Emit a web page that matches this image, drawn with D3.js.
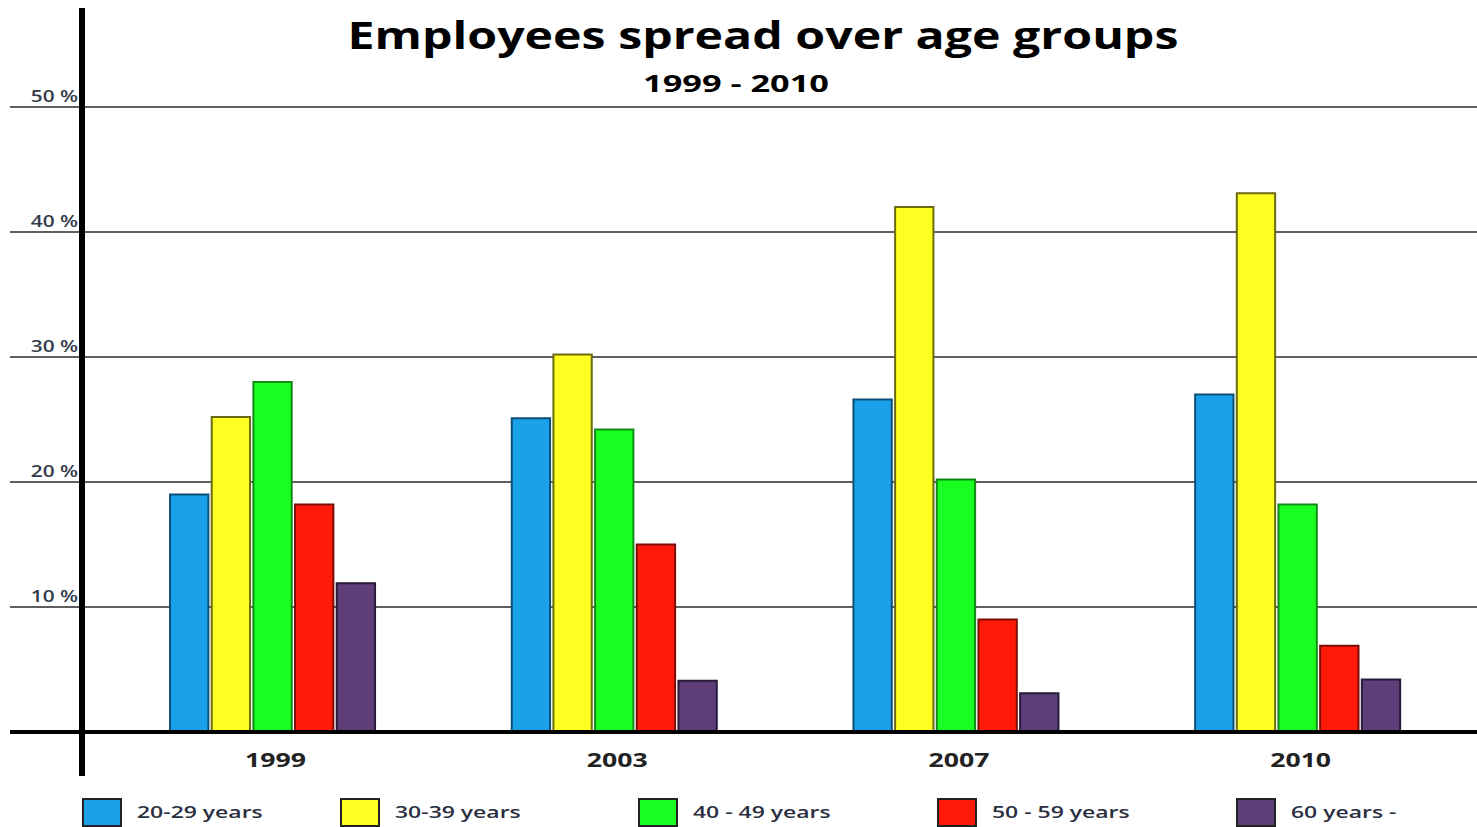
<!DOCTYPE html>
<html>
<head>
<meta charset="utf-8">
<script src="https://cdn.jsdelivr.net/npm/d3@7"></script>
<style>
  body { margin: 0; background: #fff; }
  text { font-family: "Open Sans", "Noto Sans", sans-serif; }
</style>
</head>
<body>
<svg width="1477" height="827"></svg>
<script>
var years = ["1999", "2003", "2007", "2010"];
var groups = ["20-29 years", "30-39 years", "40 - 49 years", "50 - 59 years", "60 years -"];
var colors = ["#1aa1ea", "#ffff22", "#1aff22", "#ff1a0a", "#5e3f79"];
var strokes = ["#0d4f75", "#6a6a10", "#128a18", "#7a0d05", "#2a1a3a"];
var values = [
  [19, 25.2, 28, 18.2, 11.9],
  [25.1, 30.2, 24.2, 15, 4.1],
  [26.6, 42, 20.2, 9, 3.1],
  [27, 43.1, 18.2, 6.9, 4.2]
];
var yTicks = [10, 20, 30, 40, 50];

// the original text is drawn wide, so stretch it sideways
function widen(sel, k) {
  sel.each(function() {
    var w = this.getComputedTextLength();
    d3.select(this)
      .attr("textLength", w * k)
      .attr("lengthAdjust", "spacingAndGlyphs");
  });
}

var svg = d3.select("svg");

var x = d3.scaleBand()
    .domain(years)
    .range([101.7, 1468.5])
    .paddingInner(0.4)
    .paddingOuter(0.2);

var xi = d3.scaleBand()
    .domain(d3.range(groups.length))
    .range([0, x.bandwidth()])
    .paddingInner(0.08);

var y = d3.scaleLinear()
    .domain([0, 50])
    .range([732, 107]);

// grid lines
svg.selectAll("line.grid")
    .data(yTicks)
    .enter()
  .append("line")
    .attr("class", "grid")
    .attr("x1", 10)
    .attr("x2", 1477)
    .attr("y1", function(d) { return y(d); })
    .attr("y2", function(d) { return y(d); })
    .style("stroke", "#2a2a2a")
    .style("stroke-width", 1.5);

svg.selectAll("text.ytick")
    .data(yTicks)
    .enter()
  .append("text")
    .attr("class", "ytick")
    .attr("x", 78)
    .attr("y", function(d) { return y(d) - 5; })
    .attr("text-anchor", "end")
    .style("font-size", "16px")
    .style("font-weight", "600")
    .style("fill", "#333a4a")
    .text(function(d) { return d + " %"; })
    .call(widen, 1.3);

// bars
var g = svg.selectAll("g.year")
    .data(values)
    .enter()
  .append("g")
    .attr("class", "year")
    .attr("transform", function(d, i) { return "translate(" + x(years[i]) + ",0)"; });

g.selectAll("rect")
    .data(function(d) { return d; })
    .enter()
  .append("rect")
    .attr("x", function(d, i) { return xi(i); })
    .attr("y", function(d) { return y(d); })
    .attr("width", xi.bandwidth())
    .attr("height", function(d) { return y(0) - y(d); })
    .style("fill", function(d, i) { return colors[i]; })
    .style("stroke", function(d, i) { return strokes[i]; })
    .style("stroke-width", 2);

// axes
svg.append("line")
    .attr("x1", 10).attr("x2", 1477)
    .attr("y1", y(0)).attr("y2", y(0))
    .style("stroke", "#000")
    .style("stroke-width", 4);

svg.append("line")
    .attr("x1", 82).attr("x2", 82)
    .attr("y1", 8).attr("y2", 776)
    .style("stroke", "#000")
    .style("stroke-width", 6);

svg.selectAll("text.year")
    .data(years)
    .enter()
  .append("text")
    .attr("class", "year")
    .attr("x", function(d) { return x(d) + x.bandwidth() / 2 + 3; })
    .attr("y", 767)
    .attr("text-anchor", "middle")
    .style("font-size", "19px")
    .style("font-weight", "bold")
    .style("fill", "#222")
    .text(function(d) { return d; })
    .call(widen, 1.4);

// titles
svg.append("text")
    .attr("x", 763)
    .attr("y", 49)
    .attr("text-anchor", "middle")
    .style("font-size", "38px")
    .style("font-weight", "bold")
    .style("fill", "#000")
    .text("Employees spread over age groups")
    .call(widen, 1.27);

svg.append("text")
    .attr("x", 736)
    .attr("y", 92)
    .attr("text-anchor", "middle")
    .style("font-size", "24px")
    .style("font-weight", "bold")
    .style("fill", "#000")
    .text("1999 - 2010")
    .call(widen, 1.43);

// legend
var legendX = [83, 341, 639, 938, 1237];

var legend = svg.selectAll("g.legend")
    .data(groups)
    .enter()
  .append("g")
    .attr("class", "legend")
    .attr("transform", function(d, i) { return "translate(" + legendX[i] + ",799)"; });

legend.append("rect")
    .attr("width", 38)
    .attr("height", 27)
    .style("fill", function(d, i) { return colors[i]; })
    .style("stroke", "#222")
    .style("stroke-width", 2);

legend.append("text")
    .attr("x", 54)
    .attr("y", 19)
    .style("font-size", "17px")
    .style("font-weight", "600")
    .style("fill", "#2a2f3f")
    .text(function(d) { return d; })
    .call(widen, 1.35);
</script>
</body>
</html>
